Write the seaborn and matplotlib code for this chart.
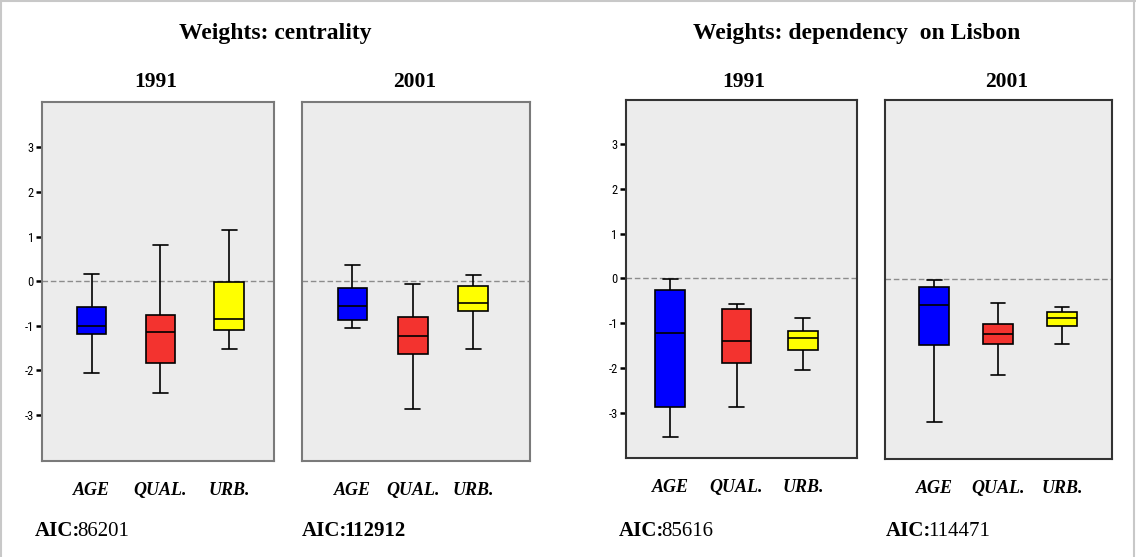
import numpy as np
import pandas as pd
import seaborn as sns
import matplotlib
matplotlib.use("Agg")
import matplotlib.pyplot as plt
from matplotlib import font_manager as fm
from matplotlib.lines import Line2D

# ---------------- data (five-number summaries) ----------------
categories = ["AGE", "QUAL.", "URB."]
# each inner list: [lower whisker, Q1, median, Q3, upper whisker]
centrality_1991 = [[-2.06, -1.18, -1.00, -0.58, 0.16],
                   [-2.51, -1.85, -1.14, -0.76, 0.82],
                   [-1.52, -1.11, -0.86, -0.01, 1.14]]
centrality_2001 = [[-1.06, -0.88, -0.56, -0.17, 0.35],
                   [-2.88, -1.65, -1.24, -0.82, -0.07],
                   [-1.54, -0.67, -0.49, -0.11, 0.14]]
lisbon_1991 = [[-3.54, -2.88, -1.22, -0.25, -0.01],
               [-2.88, -1.89, -1.39, -0.69, -0.56],
               [-2.05, -1.61, -1.32, -1.18, -0.88]]
lisbon_2001 = [[-3.22, -1.50, -0.59, -0.18, -0.03],
               [-2.16, -1.47, -1.25, -1.01, -0.55],
               [-1.47, -1.06, -0.88, -0.76, -0.63]]
years = ["1991", "2001", "1991", "2001"]
group_titles = ["Weights: centrality", "Weights: dependency  on Lisbon"]
aic_values = ["86201", "112912", "85616", "114471"]
aic_value_bold = [False, True, False, False]
ytick_values = [-3, -2, -1, 0, 1, 2, 3]
ytick_labels = ["-3", "-2", "-1", "0", "1", "2", "3"]

palette = {"AGE": "#0000ff", "QUAL.": "#f3332f", "URB.": "#ffff00"}

# ---------------- style ----------------
sns.set_theme(style="white")
avail = {f.name for f in fm.fontManager.ttflist}
SERIF = "Liberation Serif" if "Liberation Serif" in avail else "DejaVu Serif"
narrow = None
for cand in ["Liberation Sans Narrow", "Arial Narrow", "Roboto Condensed"]:
    if cand in avail:
        narrow = cand
        break
plt.rcParams["font.family"] = [SERIF, "DejaVu Sans"]
plt.rcParams["axes.unicode_minus"] = False
plt.rcParams["text.color"] = "black"
plt.rcParams["xtick.color"] = "black"
plt.rcParams["ytick.color"] = "black"
plt.rcParams["axes.labelcolor"] = "black"

W, H = 1136, 557
fig = plt.figure(figsize=(W / 100, H / 100), dpi=100)
fig.patch.set_facecolor("white")


def rect(l, t, r, b):
    return [l / W, 1 - b / H, (r - l) / W, (b - t) / H]


panels = [
    dict(data=centrality_1991, rect=rect(42, 102, 274, 461), xlim=(-0.72, 2.65),
         ylim=(-4.04, 4.02), width=0.43, yticks=True, spine="#7a7a7a"),
    dict(data=centrality_2001, rect=rect(301.7, 102.3, 530, 461), xlim=(-0.84, 2.94),
         ylim=(-4.05, 4.01), width=0.49, yticks=False, spine="#7a7a7a"),
    dict(data=lisbon_1991, rect=rect(625.7, 100, 856.7, 458.3), xlim=(-0.67, 2.81),
         ylim=(-4.02, 3.99), width=0.45, yticks=True, spine="#333333"),
    dict(data=lisbon_2001, rect=rect(885, 100.3, 1112.3, 458.7), xlim=(-0.77, 2.79),
         ylim=(-4.04, 4.00), width=0.46, yticks=False, spine="#333333"),
]

for p in panels:
    ax = fig.add_axes(p["rect"])
    rows = []
    for cat, vals in zip(categories, p["data"]):
        for v in vals:
            rows.append({"cat": cat, "val": v})
    df = pd.DataFrame(rows)
    sns.boxplot(data=df, x="cat", y="val", hue="cat", order=categories,
                hue_order=categories, palette=palette, legend=False,
                whis=(0, 100), width=p["width"], linecolor="black",
                linewidth=1.2, saturation=1, ax=ax)
    ax.axhline(0, color="#8c8c8c", lw=1.0, ls=(0, (4, 2)), zorder=1.5)
    ax.set_facecolor("#ececec")
    ax.set_xlim(*p["xlim"])
    ax.set_ylim(*p["ylim"])
    ax.set_xlabel("")
    ax.set_ylabel("")
    for s in ax.spines.values():
        s.set_visible(True)
        s.set_color(p["spine"])
        s.set_linewidth(1.5)
    ax.set_xticks(range(len(categories)))
    ax.set_xticklabels(categories, fontfamily=SERIF, fontweight="bold",
                       fontstyle="italic", fontsize=13, color="black")
    ax.tick_params(axis="x", length=0, pad=15, labelcolor="black")
    if p["yticks"]:
        ax.set_yticks(ytick_values)
        if narrow:
            ax.set_yticklabels(ytick_labels, fontfamily=narrow, fontsize=9)
        else:
            ax.set_yticklabels(ytick_labels, fontfamily="DejaVu Sans",
                               fontstretch="condensed", fontsize=8.5)
        ax.tick_params(axis="y", left=True, length=4.3, width=1.8, pad=1.5,
                       color="black", labelcolor="black")
    else:
        ax.set_yticks([])

# ---------------- texts ----------------
fig.text(275.5 / W, 1 - 33 / H, group_titles[0], ha="center", va="center",
         fontsize=17, fontweight="bold", family=SERIF, color="black")
fig.text(857 / W, 1 - 33 / H, group_titles[1], ha="center", va="center",
         fontsize=17, fontweight="bold", family=SERIF, color="black")
for xc, yr in zip([155.5, 414.5, 743.5, 1006.5], years):
    fig.text(xc / W, 1 - 82 / H, yr, ha="center", va="center",
             fontsize=15.5, fontweight="bold", family=SERIF, color="black")

for xl, val, vb in zip([35, 302, 619, 886], aic_values, aic_value_bold):
    t1 = fig.text(xl / W, 1 - 531 / H, "AIC:", ha="left", va="center",
                  fontsize=15, fontweight="bold", family=SERIF, color="black")
    plt.annotate(val, xy=(1, 0), xycoords=t1, xytext=(-2.5, 0),
                 textcoords="offset points", ha="left", va="bottom",
                 fontsize=15, fontweight="bold" if vb else "normal",
                 family=SERIF, color="black", annotation_clip=False)

# outer light border
for xs, ys in [([0.5 / W, 0.5 / W], [0, 1]), ([0, 1], [1 - 0.8 / H, 1 - 0.8 / H]),
               ([1 - 2 / W, 1 - 2 / W], [0, 1])]:
    fig.add_artist(Line2D(xs, ys, color="#c8c8c8", lw=1.5, transform=fig.transFigure))

fig.savefig("out.png", dpi=100, facecolor="white")
